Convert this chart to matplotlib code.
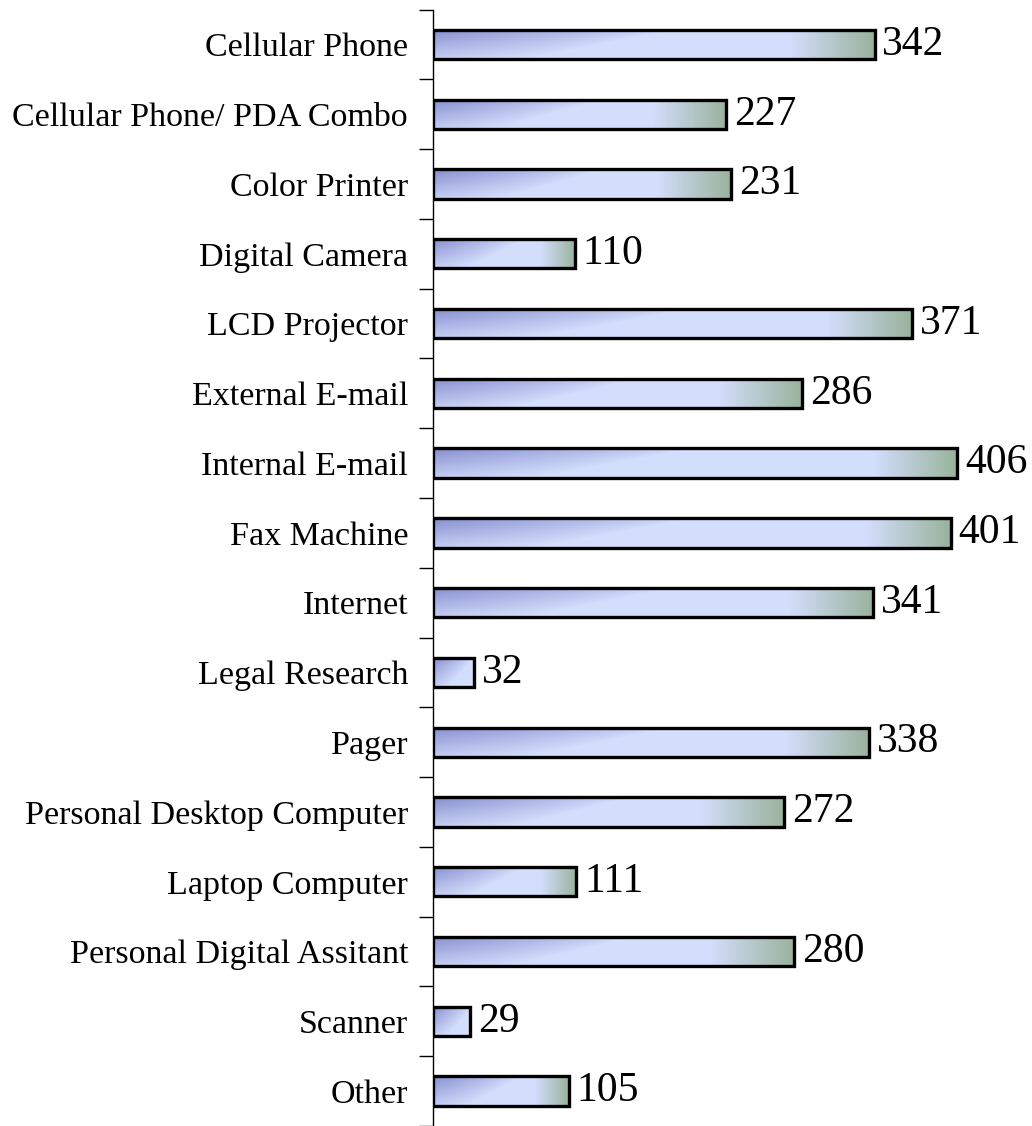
import numpy as np
import matplotlib.pyplot as plt

categories = ["Cellular Phone", "Cellular Phone/ PDA Combo", "Color Printer", "Digital Camera",
              "LCD Projector", "External E-mail", "Internal E-mail", "Fax Machine", "Internet",
              "Legal Research", "Pager", "Personal Desktop Computer", "Laptop Computer",
              "Personal Digital Assitant", "Scanner", "Other"]
values = [342, 227, 231, 110, 371, 286, 406, 401, 341, 32, 338, 272, 111, 280, 29, 105]

plt.rcParams['font.family'] = ['Liberation Serif', 'DejaVu Serif']

fig = plt.figure(figsize=(10.32, 11.26), dpi=100)
ax = fig.add_axes([433 / 1032, 0.0, 1 - 433 / 1032, 1 - 9.6 / 1126])

n = len(categories)
ax.set_xlim(0, 464)
ax.set_ylim(n - 0.5, -0.5)

# gradient fill for the bars
light = np.array([0.83, 0.87, 0.99])
dark = np.array([0.53, 0.56, 0.81])
green = np.array([0.60, 0.70, 0.61])

def bar_image(w):
    xs = np.linspace(0, 1, 300)
    ys = np.linspace(0, 1, 30)
    X, Y = np.meshgrid(xs, ys)
    xa = X * w  # position in data units
    reach = min(200, 0.5 * w + 15) * (1 - 0.6 * Y)
    w1 = np.clip(1 - xa / reach, 0, 1) ** 0.8 * (1 - 0.8 * Y)
    gw = min(65, 0.25 * w)
    w2 = np.clip((xa - (w - gw)) / gw, 0, 1) if w > 60 else np.zeros_like(X)
    img = light * (1 - w1[..., None]) + dark * w1[..., None]
    img = img * (1 - w2[..., None]) + green * w2[..., None]
    return img

h = 0.42
for i, v in enumerate(values):
    ax.imshow(bar_image(v), extent=(0, v, i + h / 2, i - h / 2), aspect='auto',
              interpolation='bilinear', zorder=2)
    ax.add_patch(plt.Rectangle((0, i - h / 2), v, h, fill=False, edgecolor='black',
                               linewidth=2.4, zorder=3))
    ax.text(v + 6, i, str(v), va='center', ha='left', fontsize=30, zorder=4)

ax.set_yticks(range(n))
ax.set_yticklabels(categories, fontsize=24.5)
ax.tick_params(axis='y', which='major', length=0, pad=18)
ax.set_yticks(np.arange(-0.5, n, 1), minor=True)
ax.tick_params(axis='y', which='minor', length=10, width=1)
ax.set_xticks([])
for s in ['top', 'right', 'bottom']:
    ax.spines[s].set_visible(False)
ax.spines['left'].set_linewidth(1)

fig.savefig('out.png', dpi=100)
